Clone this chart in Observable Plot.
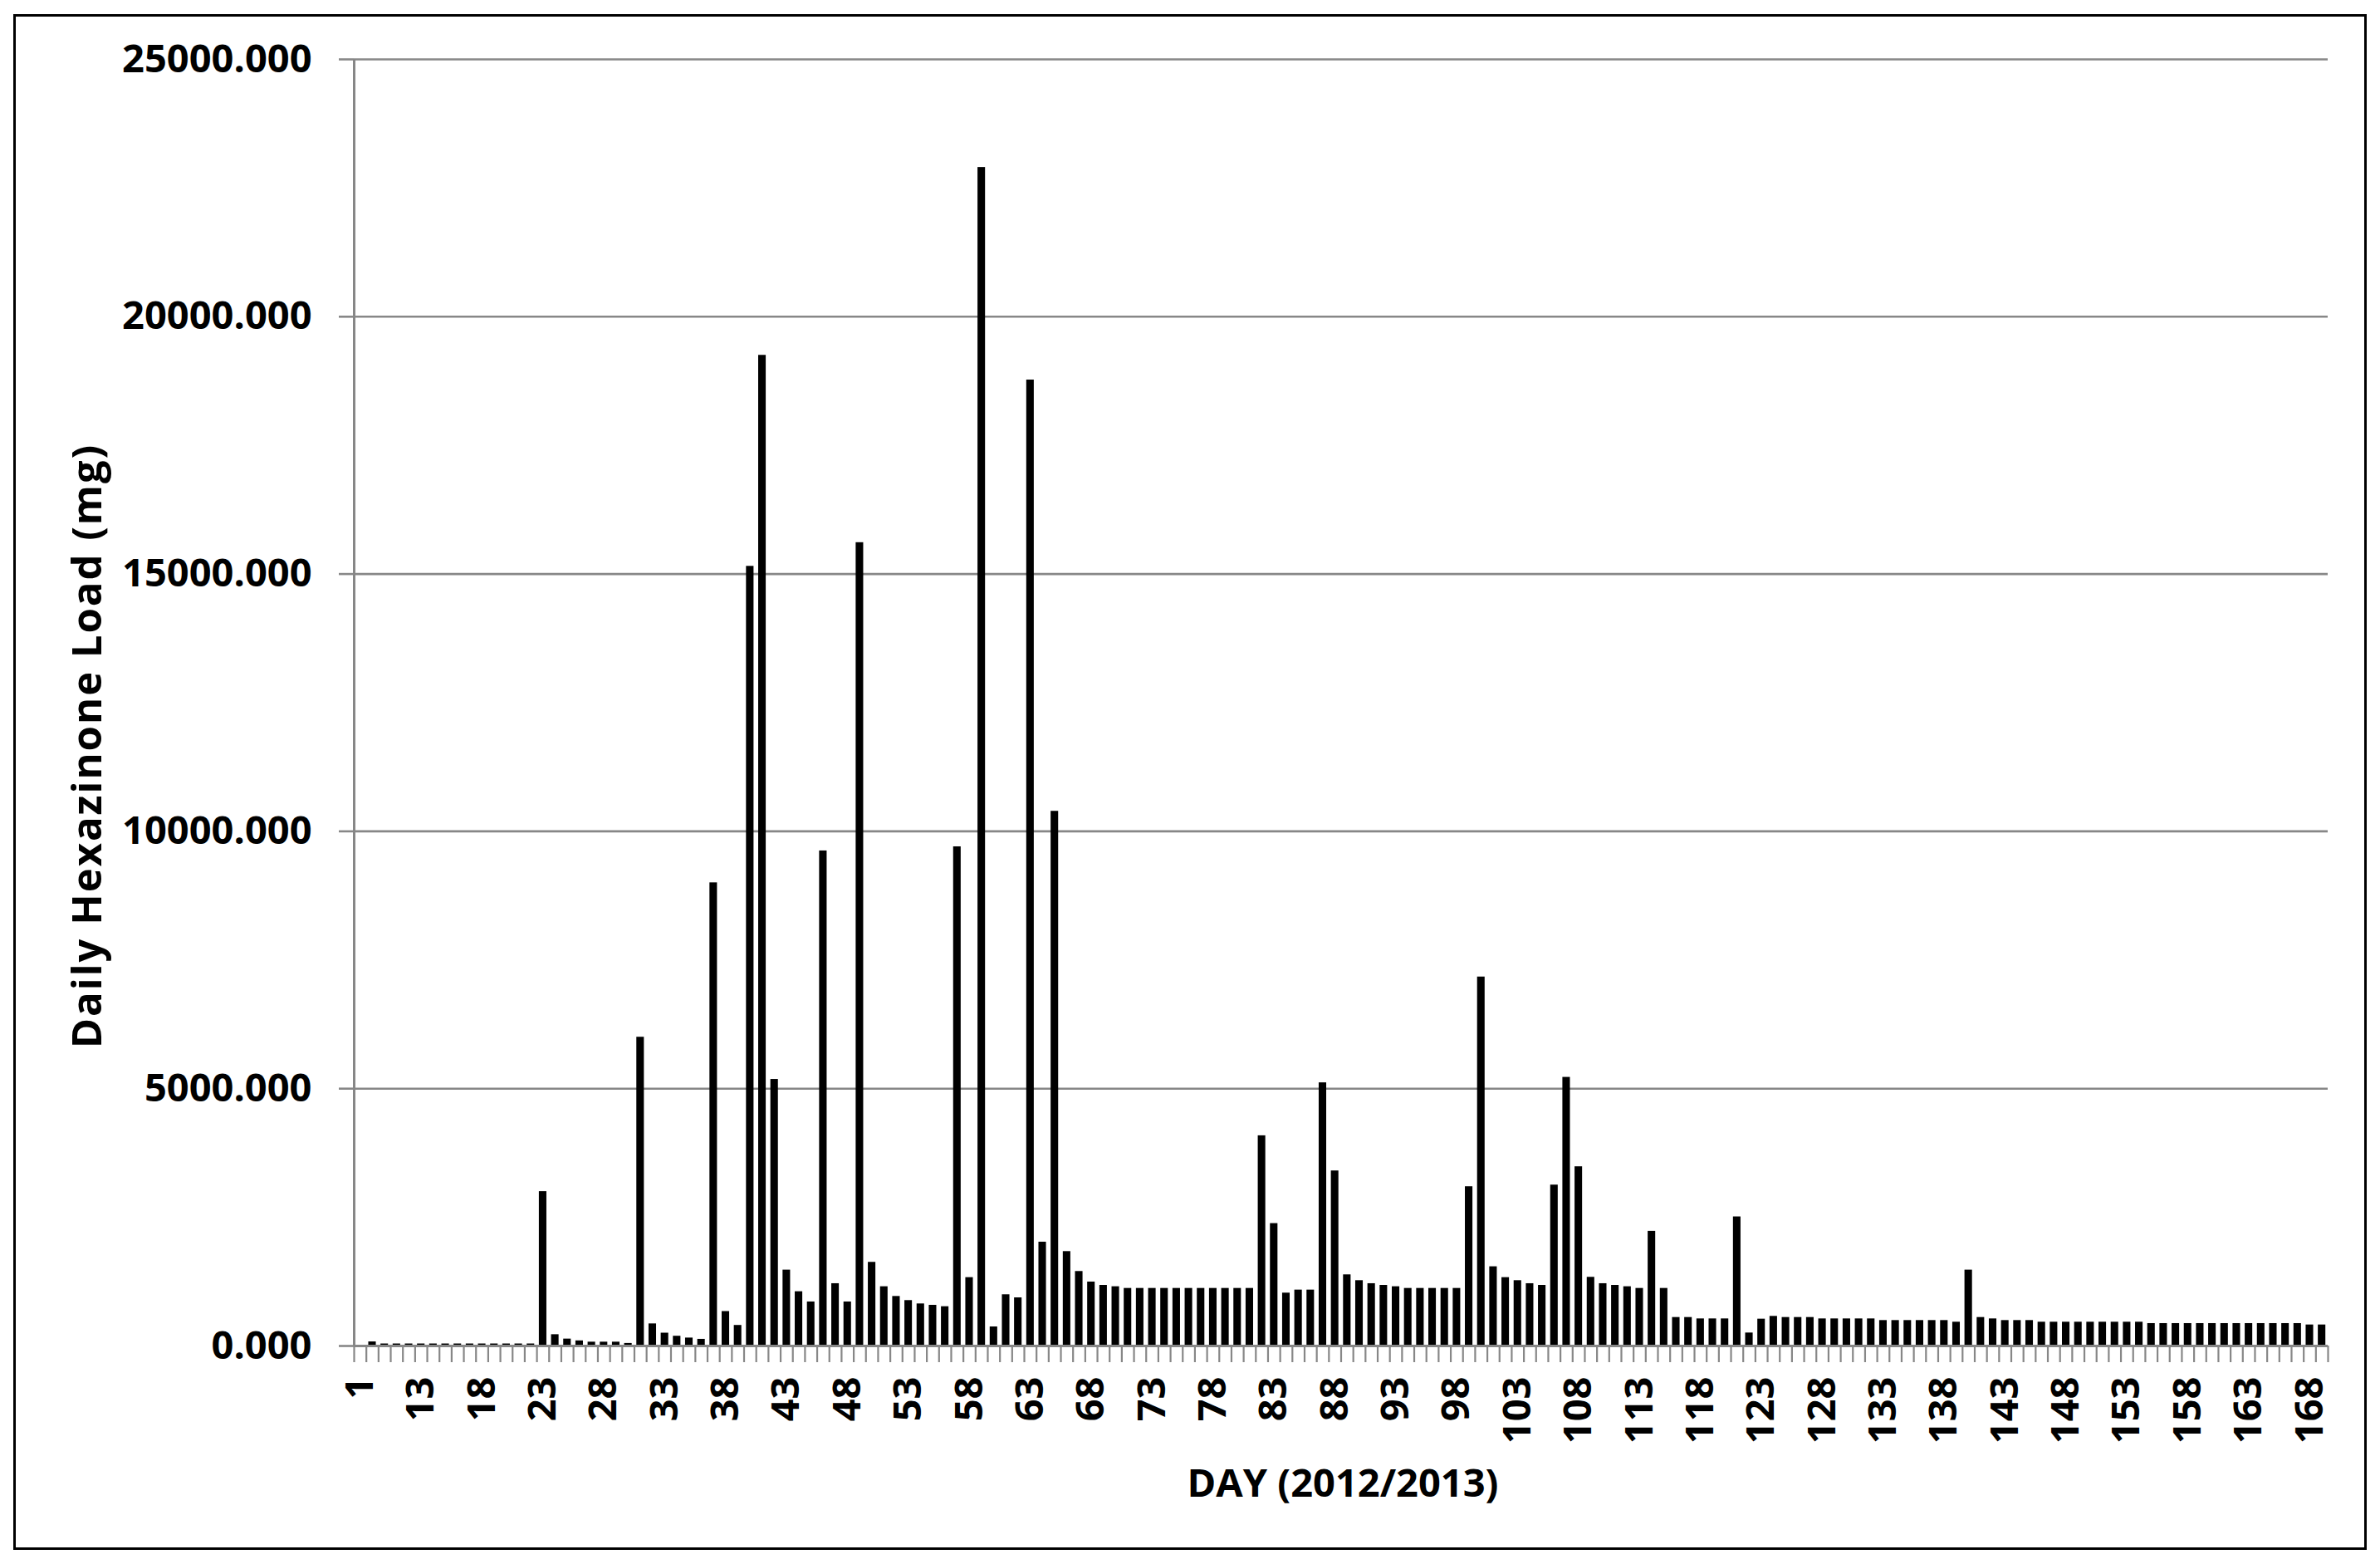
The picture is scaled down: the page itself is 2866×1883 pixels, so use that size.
<!DOCTYPE html>
<html>
<head>
<meta charset="utf-8">
<script src="https://cdn.jsdelivr.net/npm/d3@7"></script>
<script src="https://cdn.jsdelivr.net/npm/@observablehq/plot@0.6"></script>
<style>
  html, body { margin: 0; padding: 0; background: #fff; }
  #wrap { position: relative; width: 2866px; height: 1883px; overflow: hidden; }
  #border { position: absolute; left: 16px; top: 17px; width: 2828px; height: 1843px; border: 3.5px solid #000; pointer-events: none; }
</style>
</head>
<body>
<div id="wrap"><div id="chart"></div><div id="border"></div></div>
<script>
// Categories (DAY labels as they appear on the axis)
const days = [1,
  9, 10, 11, 12, 13, 14, 15, 16, 17, 18, 19, 20, 21, 22, 23, 24, 25, 26, 27, 28,
  29, 30, 31, 32, 33, 34, 35, 36, 37, 38, 39, 40, 41, 42, 43, 44, 45, 46, 47, 48,
  49, 50, 51, 52, 53, 54, 55, 56, 57, 58, 59, 60, 61, 62, 63, 64, 65, 66, 67, 68,
  69, 70, 71, 72, 73, 74, 75, 76, 77, 78, 79, 80, 81, 82, 83, 84, 85, 86, 87, 88,
  89, 90, 91, 92, 93, 94, 95, 96, 97, 98, 99, 100, 101, 102, 103, 104, 105, 106, 107, 108,
  109, 110, 111, 112, 113, 114, 115, 116, 117, 118, 119, 120, 121, 122, 123, 124, 125, 126, 127, 128,
  129, 130, 131, 132, 133, 134, 135, 136, 137, 138, 139, 140, 141, 142, 143, 144, 145, 146, 147, 148,
  149, 150, 151, 152, 153, 154, 155, 156, 157, 158, 159, 160, 161, 162, 163, 164, 165, 166, 167, 168,
  169];

// Daily hexazinone load (mg)
const loads = [0,
  80, 40, 40, 40, 40, 40, 40, 40, 40, 40, 40, 40, 40, 40,
  3000, 220, 135, 100, 75, 75, 75, 50, 6000, 430, 250, 190, 155, 130, 9000, 670, 400,
  15150, 19250, 5180, 1475, 1055, 856, 9620, 1211, 856, 15610, 1626, 1152, 963, 883, 818, 791, 764,
  9700, 1329, 22900, 371, 996, 936, 18770, 2018, 10390, 1835, 1448, 1243, 1178, 1152,
  1119, 1119, 1119, 1119, 1119, 1119, 1119, 1119, 1119, 1119, 1119,
  4085, 2379, 1028, 1087, 1087, 5114, 3402, 1383, 1270, 1211, 1178, 1152,
  1119, 1119, 1119, 1119, 1119,
  3095, 7170, 1540, 1329, 1270, 1211, 1178, 3127, 5220, 3483, 1335, 1211, 1178, 1152, 1119, 2229, 1119,
  554, 554, 527, 527, 527, 2509, 253, 522, 576, 554, 554, 554,
  527, 527, 527, 527, 527,
  495, 495, 495, 495, 495, 495,
  463, 1475,
  554, 527, 495, 495, 495,
  463, 463, 463, 463, 463, 463, 463, 463, 463,
  436, 436, 436, 436, 436, 436, 436, 436, 436, 436, 436, 436, 436,
  409, 409];

const yTicks = [0, 5000, 10000, 15000, 20000, 25000];
const labelStep = 5;
const yTitle = "Daily Hexazinone Load (mg)";
const xTitle = "DAY (2012/2013)";

const n = days.length;
const data = days.map((d, i) => ({day: d, idx: i, load: loads[i]}));
const labelPositions = d3.range(0, n, labelStep).map(i => i + 0.5);
const boundaryTicks = d3.range(0, n + 1);

const font = "'Open Sans', 'DejaVu Sans', sans-serif";
const fs = 47;

const chart = Plot.plot({
  width: 2866,
  height: 1883,
  marginLeft: 426,
  marginRight: 63,
  marginTop: 71,
  marginBottom: 263,
  style: {fontFamily: font, fontWeight: 700, fontSize: fs + "px", background: "white", color: "black", overflow: "visible"},
  x: {type: "linear", domain: [0, n]},
  y: {domain: [0, 25000]},
  marks: [
    Plot.ruleY(yTicks.filter(t => t > 0), {stroke: "#878787", strokeWidth: 2.6}),
    Plot.rectY(data, {x1: "idx", x2: d => d.idx + 1, y1: 0, y2: "load", fill: "black", insetLeft: 2.8, insetRight: 2.8}),
    Plot.ruleX([0], {stroke: "#878787", strokeWidth: 3}),
    Plot.ruleY([0], {stroke: "#878787", strokeWidth: 3.2}),
    Plot.axisY({ticks: yTicks, tickSize: 18, tickPadding: 33, tickFormat: d => d.toFixed(3),
      stroke: "#878787", strokeWidth: 2.6, fill: "black", label: null, fontSize: fs, fontWeight: 700}),
    Plot.axisX({ticks: boundaryTicks, tickSize: 20, tickFormat: () => "", stroke: "#878787", strokeWidth: 2.2, label: null}),
    Plot.axisX({ticks: labelPositions, tickSize: 0, tickPadding: 37, tickRotate: -90,
      tickFormat: v => String(days[Math.round(v - 0.5)]), fill: "black", label: null, fontSize: fs, fontWeight: 700}),
    Plot.text([yTitle], {frameAnchor: "left", dx: -320, dy: 52, rotate: -90, textAnchor: "middle", lineAnchor: "middle",
      fontSize: 49, fontWeight: 700, fill: "black"}),
    Plot.text([xTitle], {frameAnchor: "bottom", dx: 2, dy: 166, textAnchor: "middle", lineAnchor: "middle",
      fontSize: fs, fontWeight: 700, fill: "black"})
  ]
});
document.getElementById("chart").appendChild(chart);
d3.select(chart).selectAll("text").filter(function() { return this.textContent === yTitle; })
  .style("letter-spacing", "2px");
</script>
</body>
</html>
